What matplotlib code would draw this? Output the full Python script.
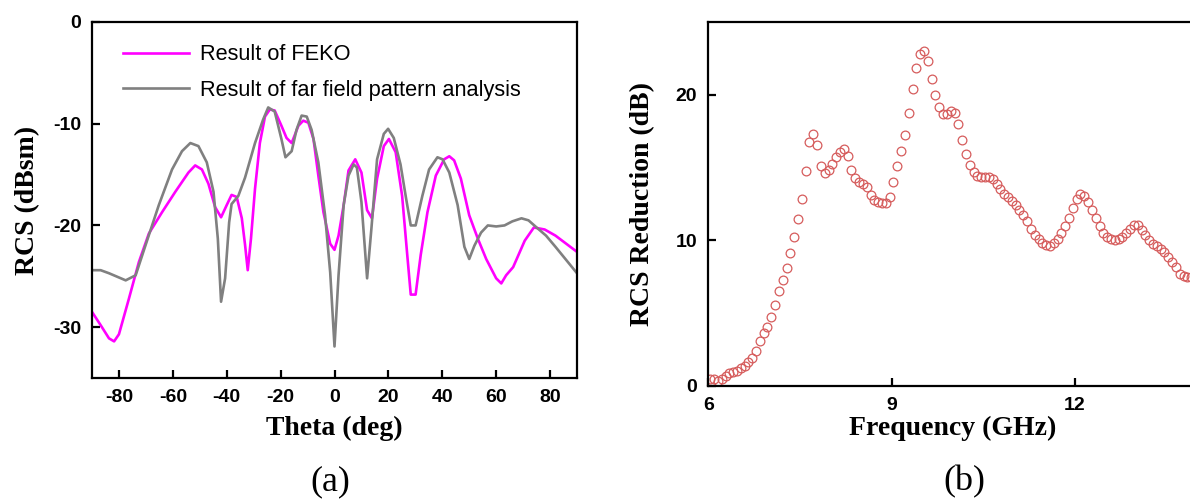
import numpy as np
import matplotlib
matplotlib.use("Agg")
import matplotlib.pyplot as plt

plt.rcParams["axes.unicode_minus"] = False

# ---- (a) monostatic RCS versus incidence angle ----
theta_feko = [-90, -86.8, -83.7, -81.8, -80.0, -76.3, -72.6, -68.9, -64.0, -59.1,
              -54.2, -51.7, -49.2, -46.8, -44.3, -42.1, -40.0, -38.2, -36.3, -34.4,
              -33.2, -32.2, -31.0, -29.5, -27.7, -25.8, -24.0, -22.2, -19.7, -17.8,
              -15.9, -13.4, -11.6, -9.7, -7.8, -6.0, -4.1, -1.6, 0.0, 1.5,
              3.4, 5.2, 7.7, 10.0, 12.1, 13.9, 15.8, 18.3, 20.2, 22.7,
              25.1, 27.0, 28.3, 30.1, 32.0, 34.5, 37.6, 40.7, 42.6, 44.4,
              46.9, 50.0, 53.2, 56.3, 60.0, 61.9, 63.7, 66.3, 70.6, 74.0,
              78.0, 82.0, 86.0, 90.0]
rcs_feko = [-28.5, -29.8, -31.1, -31.4, -30.7, -27.2, -23.6, -20.8, -18.7, -16.7,
            -14.8, -14.1, -14.5, -15.9, -18.2, -19.2, -18.0, -17.0, -17.2, -19.3,
            -21.9, -24.4, -21.3, -16.4, -11.9, -9.3, -8.6, -8.7, -10.2, -11.4,
            -11.9, -10.2, -9.7, -9.9, -11.5, -15.1, -18.7, -21.8, -22.4, -21.0,
            -18.0, -14.6, -13.5, -14.8, -18.5, -19.3, -15.4, -12.2, -11.5, -12.8,
            -17.1, -22.9, -26.8, -26.8, -22.9, -18.7, -15.1, -13.5, -13.2, -13.6,
            -15.4, -19.0, -21.3, -23.3, -25.2, -25.7, -24.9, -24.1, -21.5, -20.2,
            -20.4, -21.0, -21.8, -22.6]

theta_far = [-90, -86.8, -83.7, -77.5, -73.8, -70.2, -65.2, -60.3, -56.6, -53.5,
             -50.5, -47.4, -44.9, -43.3, -42.1, -40.6, -39.1, -38.2, -35.7, -33.2,
             -29.5, -26.5, -24.6, -22.2, -19.7, -18.2, -15.9, -14.1, -12.2, -10.3,
             -8.5, -6.0, -3.5, -1.6, 0.0, 1.5, 3.4, 5.2, 7.1, 8.3,
             10.0, 12.1, 13.7, 15.8, 18.3, 19.9, 22.0, 24.5, 26.6, 28.3,
             30.1, 32.6, 35.1, 38.2, 40.1, 42.6, 45.7, 48.2, 50.0, 51.9,
             54.4, 56.9, 60.0, 63.1, 66.0, 69.4, 72.0, 75.0, 78.5, 82.0,
             86.0, 90.0]
rcs_far = [-24.4, -24.4, -24.7, -25.4, -24.9, -22.0, -18.0, -14.5, -12.7, -11.9,
           -12.2, -13.8, -16.7, -21.3, -27.5, -25.2, -19.7, -17.9, -17.1, -15.3,
           -11.9, -9.6, -8.4, -8.8, -11.5, -13.3, -12.7, -10.6, -9.2, -9.3,
           -10.6, -13.8, -19.0, -24.6, -31.9, -24.9, -18.0, -15.1, -14.0, -14.3,
           -17.7, -25.2, -20.3, -13.5, -11.0, -10.5, -11.4, -14.0, -17.4, -20.0,
           -20.0, -17.1, -14.5, -13.3, -13.5, -14.8, -18.0, -22.1, -23.3, -22.0,
           -20.7, -20.0, -20.1, -20.0, -19.6, -19.3, -19.5, -20.2, -21.0, -22.1,
           -23.4, -24.7]

theta_ticks = [-80, -60, -40, -20, 0, 20, 40, 60, 80]
rcs_ticks = [-30, -20, -10, 0]

# ---- (b) RCS reduction versus frequency (uniform sweep) ----
freq_start = 6.03
freq_step = 0.0625
reduction_db = [0.48, 0.48, 0.34, 0.48, 0.71, 0.91, 0.98, 1.05, 1.21, 1.39,
                1.62, 1.94, 2.40, 3.08, 3.61, 4.06, 4.75, 5.55, 6.51, 7.31,
                8.13, 9.16, 10.23, 11.48, 12.81, 14.75, 16.78, 17.31, 16.55, 15.09,
                14.61, 14.84, 15.25, 15.71, 16.10, 16.28, 15.82, 14.86, 14.30, 14.00,
                13.85, 13.65, 13.13, 12.79, 12.63, 12.58, 12.58, 13.01, 14.00, 15.09,
                16.12, 17.24, 18.72, 20.43, 21.87, 22.80, 23.00, 22.30, 21.10, 19.98,
                19.13, 18.68, 18.68, 18.90, 18.74, 17.99, 16.92, 15.94, 15.18, 14.73,
                14.45, 14.34, 14.34, 14.34, 14.22, 13.90, 13.55, 13.20, 12.95, 12.70,
                12.40, 12.10, 11.75, 11.30, 10.80, 10.40, 10.10, 9.84, 9.66, 9.61,
                9.84, 10.11, 10.52, 10.98, 11.53, 12.21, 12.85, 13.20, 13.08, 12.63,
                12.10, 11.55, 10.98, 10.52, 10.23, 10.11, 10.05, 10.11, 10.23, 10.52,
                10.80, 11.03, 11.03, 10.68, 10.34, 10.00, 9.77, 9.61, 9.38, 9.20,
                8.86, 8.52, 8.17, 7.72, 7.53, 7.49, 7.49]
freq_ghz = freq_start + freq_step * np.arange(len(reduction_db))

freq_ticks = [6, 9, 12]
reduction_ticks = [0, 10, 20]

SANS = "Liberation Sans"
SERIF = "Liberation Serif"
W, H = 1190, 500

fig = plt.figure(figsize=(W / 100, H / 100), dpi=100)
ax1 = fig.add_axes([92 / W, 1 - 378 / H, 485 / W, 356 / H])
ax2 = fig.add_axes([708.4 / W, 1 - 386 / H, 488.6 / W, 364 / H])


def style_axes(ax):
    for sp in ax.spines.values():
        sp.set_linewidth(1.6)
    ax.tick_params(direction="in", length=6, width=1.6, pad=8)
    for lbl in ax.get_xticklabels() + ax.get_yticklabels():
        lbl.set_fontfamily(SANS)
        lbl.set_fontweight("bold")
        lbl.set_fontsize(14)


# (a)
ax1.plot(theta_feko, rcs_feko, color="#ff00ff", lw=1.9, label="Result of FEKO")
ax1.plot(theta_far, rcs_far, color="#808080", lw=1.9,
         label="Result of far field pattern analysis")
ax1.set_xlim(-90, 90)
ax1.set_ylim(-35, 0)
ax1.set_xticks(theta_ticks)
ax1.set_yticks(rcs_ticks)
style_axes(ax1)
ax1.set_xlabel("Theta (deg)", family=SERIF, weight="bold", fontsize=20)
ax1.set_ylabel("RCS (dBsm)", family=SERIF, weight="bold", fontsize=20)
ax1.xaxis.set_label_coords(0.5, -0.107)
ax1.yaxis.set_label_coords(-0.107, 0.5)
ax1.legend(loc="upper left", bbox_to_anchor=(0.063, 0.937), frameon=False,
           borderaxespad=0, borderpad=0, handlelength=3.05, handletextpad=0.52,
           labelspacing=0.66, prop={"family": SANS, "size": 15.7})

# (b)
ax2.plot(freq_ghz, reduction_db, linestyle="none", marker="o", markersize=6.3,
         markerfacecolor="none", markeredgecolor="#d65c5c", markeredgewidth=0.9)
ax2.set_xlim(6, 14)
ax2.set_ylim(0, 25)
ax2.set_xticks(freq_ticks)
ax2.set_yticks(reduction_ticks)
style_axes(ax2)
ax2.set_xlabel("Frequency (GHz)", family=SERIF, weight="bold", fontsize=20)
ax2.set_ylabel("RCS Reduction (dB)", family=SERIF, weight="bold", fontsize=20)
ax2.xaxis.set_label_coords(0.5, -0.082)
ax2.yaxis.set_label_coords(-0.109, 0.5)

fig.text(330 / W, 1 - 482 / H, "(a)", family=SERIF, fontsize=26,
         ha="center", va="center")
fig.text(964 / W, 1 - 482 / H, "(b)", family=SERIF, fontsize=26,
         ha="center", va="center")

fig.savefig("out.png", dpi=100)
